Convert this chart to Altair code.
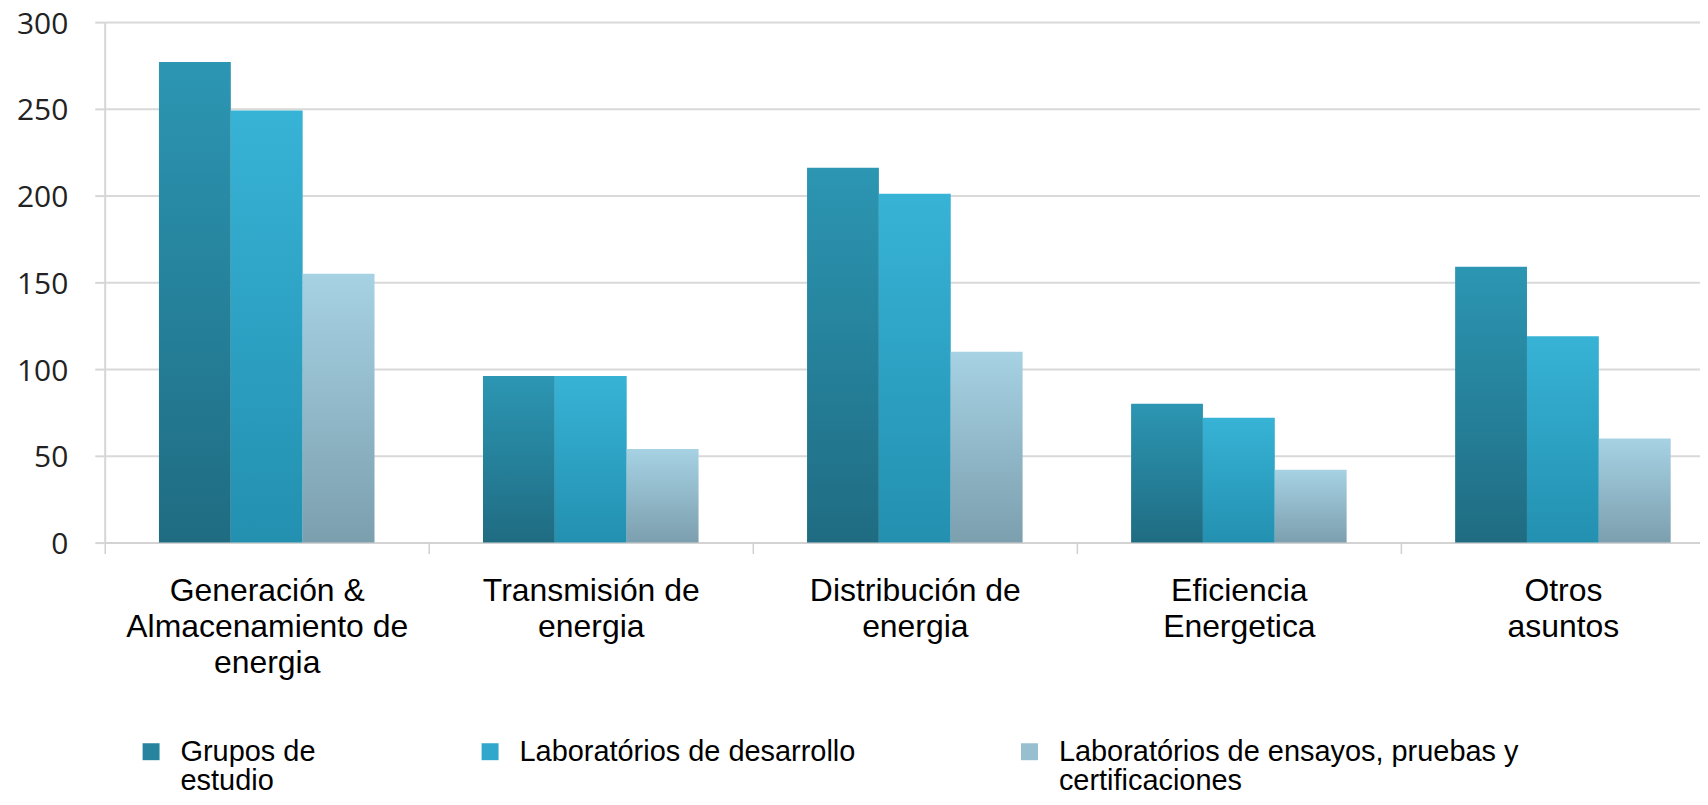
import altair as alt
import pandas as pd

# ---- data ----
categories = [
    "Generación &|Almacenamiento de|energia",
    "Transmisión de|energia",
    "Distribución  de|energia",
    "Eficiencia|Energetica",
    "Otros|asuntos",
]
series = [
    "Grupos de\nestudio",
    "Laboratórios de desarrollo\n",
    "Laboratórios de ensayos, pruebas y\ncertificaciones",
]
grupos_estudio = [277, 96, 216, 80, 159]
lab_desarrollo = [249, 96, 201, 72, 119]
lab_ensayos = [155, 54, 110, 42, 60]
y_ticks = [0, 50, 100, 150, 200, 250, 300]

# ---- styling ----
gradients = [
    ("#2c96b3", "#1f6c82"),
    ("#37b3d6", "#2390b0"),
    ("#a6d2e4", "#7c9fae"),
]
legend_colors = ["#27849f", "#30a7cb", "#97bfd0"]

rows = []
for s, vals in zip(series, [grupos_estudio, lab_desarrollo, lab_ensayos]):
    for c, v in zip(categories, vals):
        rows.append({"categoria": c, "serie": s, "valor": v})
df = pd.DataFrame(rows)

x_enc = alt.X(
    "categoria:N",
    sort=categories,
    scale=alt.Scale(range=[0, 1625], paddingInner=0, paddingOuter=0),
    axis=alt.Axis(
        title=None,
        labelExpr="split(datum.label, '|')",
        labelAngle=0,
        labelFont="Liberation Sans",
        labelFontSize=32,
        labelColor="#000000",
        labelLineHeight=36,
        labelPadding=22,
        labelBaseline="top",
        labelLimit=500,
        labelOverlap=False,
        labelFlush=False,
        tickBand="extent",
        tickSize=11,
        tickColor="#d0d0d0",
        tickWidth=1.5,
        domainColor="#d0d0d0",
        domainWidth=1.5,
        grid=False,
    ),
)
xoff_enc = alt.XOffset(
    "serie:N",
    sort=series,
    scale=alt.Scale(domain=series, paddingInner=0, paddingOuter=0.755),
)
y_enc = alt.Y(
    "valor:Q",
    scale=alt.Scale(domain=[0, 300], nice=False),
    axis=alt.Axis(
        values=y_ticks,
        title=None,
        labelFont="Open Sans",
        labelFontSize=30,
        labelColor="#222222",
        labelPadding=27,
        labelOffset=2,
        tickSize=10,
        tickColor="#d6d6d6",
        tickWidth=2,
        domainColor="#d6d6d6",
        domainWidth=2,
        grid=True,
        gridColor="#d9d9d9",
        gridWidth=2,
    ),
)

base = alt.Chart(df).encode(x=x_enc, xOffset=xoff_enc, y=y_enc)

legend_layer = base.mark_bar(opacity=0).encode(
    color=alt.Color(
        "serie:N",
        sort=series,
        scale=alt.Scale(domain=series, range=legend_colors),
        legend=alt.Legend(
            title=None,
            orient="none",
            legendX=32,
            legendY=717,
            direction="horizontal",
            columns=3,
            columnPadding=160,
            symbolType="square",
            symbolSize=289,
            symbolOpacity=1,
            symbolStrokeWidth=0,
            labelFont="Liberation Sans",
            labelFontSize=29,
            labelColor="#000000",
            labelExpr="split(datum.label, '\\n')",
            labelLimit=600,
            labelOffset=15,
            labelBaseline="middle",
        ),
    )
)

layers = [legend_layer]
for s, (top, bottom) in zip(series, gradients):
    grad = {
        "gradient": "linear",
        "x1": 0, "y1": 0, "x2": 0, "y2": 1,
        "stops": [{"offset": 0, "color": top}, {"offset": 1, "color": bottom}],
    }
    layers.append(
        base.transform_filter(alt.datum.serie == s).mark_bar(color=grad)
    )

chart = (
    alt.layer(*layers)
    .properties(
        width=1600,
        height=522,
        padding={"left": 97, "top": 13, "right": 0, "bottom": 250},
        autosize=alt.AutoSizeParams(type="none"),
        background="white",
    )
    .configure_view(stroke=None)
    .configure(style={"guide-label": {"lineHeight": 29}})
)

chart.save("out.html", embed_options={"renderer": "svg", "actions": False})
